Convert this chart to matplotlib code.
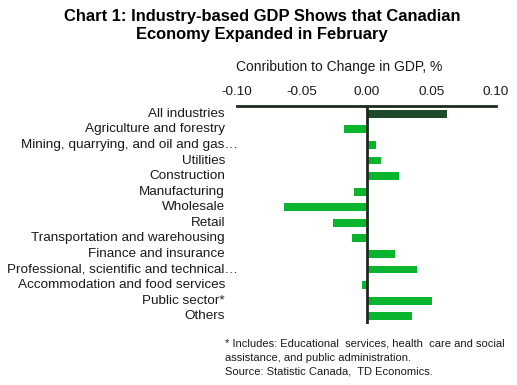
import matplotlib
matplotlib.use("Agg")
import matplotlib.pyplot as plt
import matplotlib.transforms as mtransforms

plt.rcParams['font.family'] = ['Liberation Sans', 'DejaVu Sans']

categories = ["All industries", "Agriculture and forestry",
              "Mining, quarrying, and oil and gas\u2026", "Utilities", "Construction",
              "Manufacturing", "Wholesale", "Retail", "Transportation and warehousing",
              "Finance and insurance", "Professional, scientific and technical\u2026",
              "Accommodation and food services", "Public sector*", "Others"]
values = [0.062, -0.017, 0.007, 0.0114, 0.025, -0.010, -0.0636, -0.0256, -0.0109,
          0.0217, 0.0388, -0.0033, 0.0504, 0.035]
xticks = [-0.10, -0.05, 0.00, 0.05, 0.10]
truncated = {2, 10}

dark = "#1d4a2a"
green = "#09b52f"
line_c = "#1c2a1c"

fig = plt.figure(figsize=(5.17, 3.85), dpi=100)
ax = fig.add_axes([237/517, 1-324/385, (496-237)/517, (324-106)/385])

ypos = list(range(len(categories)))
colors = [dark] + [green]*(len(categories)-1)
ax.barh(ypos, values, height=0.5, color=colors, zorder=2)
ax.set_ylim(len(categories)-0.5, -0.5)
ax.set_xlim(-0.10, 0.10)
ax.axvline(0, color=line_c, lw=2, zorder=3)

for s in ["left", "right", "bottom"]:
    ax.spines[s].set_visible(False)
ax.spines["top"].set_color(line_c)
ax.spines["top"].set_linewidth(2)

ax.xaxis.set_ticks_position("top")
ax.set_xticks(xticks)
ax.set_xticklabels([f"{v:.2f}" for v in xticks], fontsize=9.7, color="#1a1a1a")
ax.tick_params(axis="x", length=0, pad=6)
ax.set_yticks([])

trans = mtransforms.blended_transform_factory(ax.transAxes, ax.transData)
for i, lab in enumerate(categories):
    off = 13 if i in truncated else 0
    ax.text((-12 + off)/259, i, lab, transform=trans, ha="right", va="center",
            fontsize=9.7, color="#1a1a1a")

fig.text(339/517, 1-67/385, "Conribution to Change in GDP, %", ha="center", va="center",
         fontsize=10, color="#1a1a1a")

fig.text(262/517, 1-25.5/385, "Chart 1: Industry-based GDP Shows that Canadian\nEconomy Expanded in February",
         ha="center", va="center", fontsize=11.85, fontweight="bold", linespacing=1.3)

fig.text(225/517, 1-339/385,
         "* Includes: Educational  services, health  care and social\nassistance, and public administration.\nSource: Statistic Canada,  TD Economics.",
         ha="left", va="top", fontsize=8, linespacing=1.45, color="#1a1a1a")

fig.savefig("out.png", dpi=100)
